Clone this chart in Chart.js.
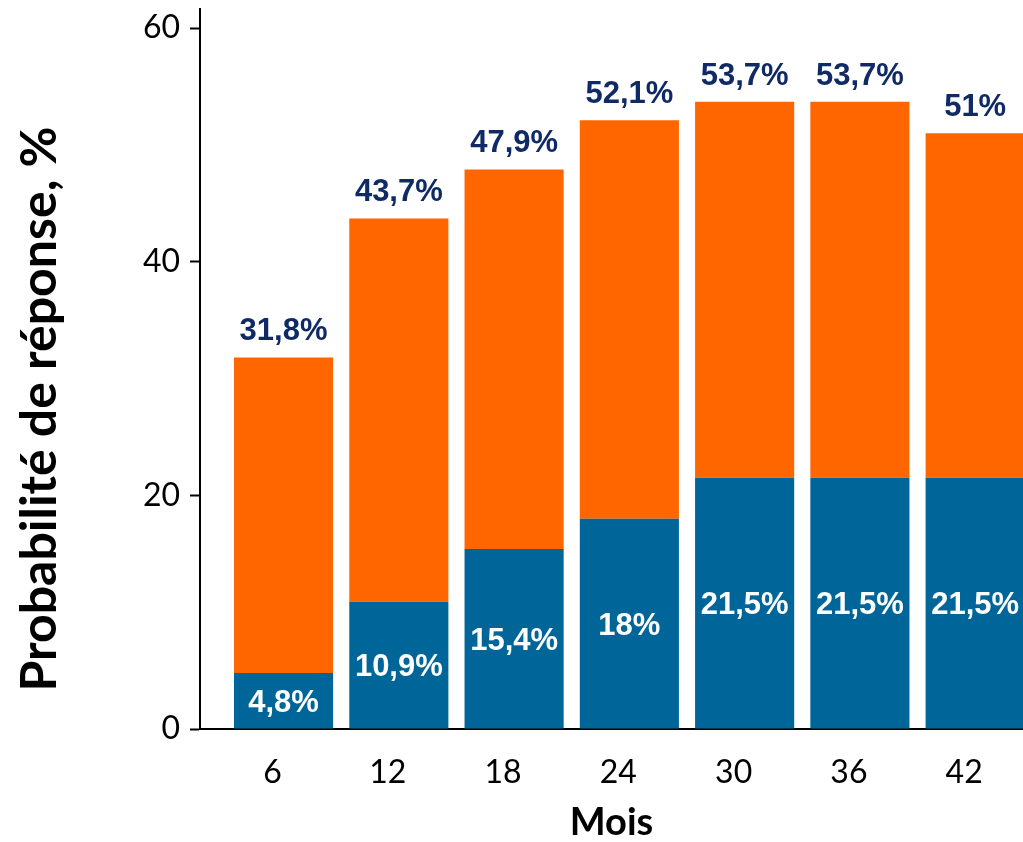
<!DOCTYPE html>
<html><head><meta charset="utf-8">
<script src="https://cdn.jsdelivr.net/npm/chart.js@4.4.1/dist/chart.umd.min.js"></script>
<style>html,body{margin:0;padding:0;background:#fff;overflow:hidden}</style>
</head><body>
<canvas id="c" width="1023" height="842" style="display:block;width:1023px;height:842px"></canvas>
<script>
const months = [6, 12, 18, 24, 30, 36, 42];
const blueValues = [4.8, 10.9, 15.4, 18, 21.5, 21.5, 21.5];
const totalValues = [31.8, 43.7, 47.9, 52.1, 53.7, 53.7, 51];
const yTicks = [0, 20, 40, 60];
const xTicks = [6, 12, 18, 24, 30, 36, 42];
const yTitle = 'Probabilité de réponse, %';
const xTitle = 'Mois';

const orangeValues = totalValues.map((t, i) => Math.round((t - blueValues[i]) * 10) / 10);
const fmt = v => String(v).replace('.', ',') + '%';

const BLUE = '#006699', ORANGE = '#FF6600', NAVY = '#102A66';
const tickFont = {family: 'Lato', size: 32};

const labelPlugin = {
  id: 'labels',
  afterDatasetsDraw(chart) {
    const ctx = chart.ctx;
    const mb = chart.getDatasetMeta(0), mo = chart.getDatasetMeta(1);
    ctx.save();
    ctx.font = 'bold 31px "Liberation Sans", Arial, sans-serif';
    ctx.textAlign = 'center';
    ctx.textBaseline = 'alphabetic';
    mb.data.forEach((el, i) => {
      const cy = (el.y + el.base) / 2;
      ctx.fillStyle = '#FFFFFF';
      ctx.fillText(fmt(blueValues[i]), el.x, cy + 31 * 0.358);
    });
    mo.data.forEach((el, i) => {
      ctx.fillStyle = NAVY;
      ctx.fillText(fmt(totalValues[i]), el.x, el.y - 17);
    });
    ctx.restore();
  },
  afterDraw(chart) {
    const ctx = chart.ctx;
    ctx.save();
    ctx.font = 'bold 50px Lato, sans-serif';
    ctx.fillStyle = '#000';
    ctx.textAlign = 'center';
    ctx.textBaseline = 'alphabetic';
    ctx.translate(56, 409);
    ctx.rotate(-Math.PI / 2);
    ctx.fillText(yTitle, 0, 0);
    ctx.restore();
  }
};

new Chart(document.getElementById('c'), {
  type: 'bar',
  data: {
    datasets: [
      {label: 'a', data: months.map((m, i) => ({x: m, y: blueValues[i]})), backgroundColor: BLUE, borderWidth: 0},
      {label: 'b', data: months.map((m, i) => ({x: m, y: orangeValues[i]})), backgroundColor: ORANGE, borderWidth: 0}
    ]
  },
  options: {
    responsive: false,
    animation: false,
    devicePixelRatio: 1,
    layout: {padding: {top: 9, right: 0, bottom: 0, left: 0}},
    plugins: {legend: {display: false}, tooltip: {enabled: false}},
    datasets: {bar: {categoryPercentage: 0.86, barPercentage: 1}},
    scales: {
      x: {
        type: 'linear', stacked: true, offset: false,
        min: 1.65, max: 44.49,
        afterBuildTicks: s => { s.ticks = xTicks.map(v => ({value: v})); },
        afterFit: s => { s.height = 113; },
        grid: {display: true, drawOnChartArea: false, drawTicks: false},
        border: {display: true, color: '#000', width: 2},
        ticks: {font: tickFont, color: '#000', padding: 24, labelOffset: -11, maxRotation: 0, autoSkip: false},
        title: {display: true, text: xTitle, color: '#000', font: {family: 'Lato', size: 38, weight: 'bold', lineHeight: 1}, padding: {top: 0, bottom: 0}}
      },
      y: {
        stacked: true, min: 0, max: 61.63,
        afterBuildTicks: s => { s.ticks = yTicks.map(v => ({value: v})); },
        afterFit: s => { s.width = 200; s.paddingTop = 0; s.paddingBottom = 0; },
        grid: {display: true, drawOnChartArea: false, drawTicks: true, tickLength: 10, color: '#000', tickWidth: 2},
        border: {display: true, color: '#000', width: 2},
        ticks: {font: tickFont, color: '#000', padding: 10}
      }
    }
  },
  plugins: [labelPlugin]
});
</script>
</body></html>
